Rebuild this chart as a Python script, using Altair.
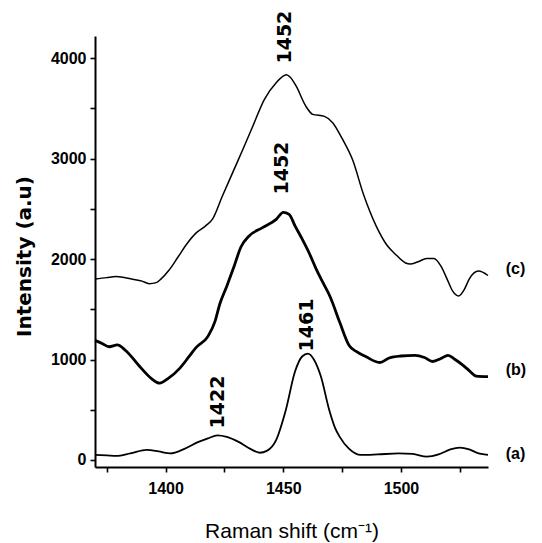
import altair as alt
import pandas as pd

# ---- data ----
a_x = [1370, 1375, 1379, 1385, 1392, 1397, 1402, 1408, 1414, 1418, 1422, 1426, 1431, 1436, 1440,
       1443, 1447, 1451, 1455, 1458, 1460.5, 1463, 1466, 1469.5, 1472, 1474, 1478, 1483, 1490,
       1499, 1505, 1511, 1516, 1521, 1525, 1529, 1533, 1537]
a_y = [50, 45, 40, 65, 100, 85, 65, 110, 180, 215, 245, 230, 180, 110, 72,
       90, 200, 490, 880, 1030, 1058, 1000, 830, 500, 320, 230, 110, 50, 55,
       65, 60, 33, 55, 105, 122, 105, 65, 50]

b_x = [1370, 1373, 1376, 1379.5, 1383, 1389, 1394, 1397.5, 1401, 1406, 1410, 1413, 1418, 1421,
       1423, 1426, 1429, 1432, 1435.5, 1441, 1447, 1450, 1452.5, 1455, 1458, 1461, 1464, 1467,
       1470, 1474, 1478, 1481, 1485, 1491, 1495, 1500, 1506, 1510, 1513.5, 1517, 1520, 1523,
       1526, 1529, 1532, 1537]
b_y = [1190, 1160, 1127, 1145, 1090, 930, 810, 765, 810, 912, 1030, 1120, 1230, 1380,
       1550, 1730, 1920, 2120, 2230, 2310, 2395, 2465, 2445, 2330, 2200, 2060, 1900, 1760,
       1620, 1370, 1140, 1080, 1030, 970, 1015, 1035, 1042, 1020, 980, 1010, 1042, 1000,
       950, 890, 835, 830]

c_x = [1370, 1375, 1379, 1386, 1390, 1393, 1396, 1398, 1401.5, 1405, 1409, 1413, 1417, 1420,
       1424, 1428.5, 1433, 1437, 1442, 1447, 1451.3, 1453, 1455.5, 1459.5, 1462.5, 1467.5, 1471,
       1475, 1479.5, 1484, 1489.5, 1494, 1498, 1502, 1504, 1507, 1511, 1514, 1517, 1520, 1522,
       1524.5, 1527, 1529, 1533, 1537]
c_y = [1800, 1815, 1825, 1798, 1780, 1755, 1765, 1800, 1890, 2010, 2150, 2260, 2330, 2400,
       2620, 2860, 3100, 3320, 3590, 3755, 3835, 3810, 3720, 3525, 3440, 3420, 3357,
       3200, 2985, 2650, 2328, 2140, 2040, 1960, 1950, 1970, 2005, 2005, 1930, 1780, 1680,
       1632, 1700, 1800, 1880, 1836]

series_names = ["(a)", "(b)", "(c)"]
series_widths = [1.8, 2.8, 1.5]

peak_text = ["1452", "1452", "1461", "1422"]
peak_x = [1450.8, 1449.5, 1459.9, 1422.1]
peak_y = [4209, 2905, 1343, 577]

tag_x = [1544.5, 1544.5, 1544.5]
tag_y = [55, 895, 1900]

x_ticks = [1375, 1400, 1425, 1450, 1475, 1500, 1525]
y_ticks = [0, 500, 1000, 1500, 2000, 2500, 3000, 3500, 4000]

# ---- tables ----
series_dfs = [pd.DataFrame({"x": xs, "y": ys}) for xs, ys in zip([a_x, b_x, c_x], [a_y, b_y, c_y])]
peaks_df = pd.DataFrame({"t": peak_text, "x": peak_x, "y": peak_y})
tags_df = pd.DataFrame({"t": series_names, "x": tag_x, "y": tag_y})

NARROW = "Liberation Sans Narrow, Arial Narrow, Liberation Sans, Arial, sans-serif"
WIDE = "DejaVu Sans, Verdana, sans-serif"

xscale = alt.Scale(domain=[1370, 1537], nice=False, zero=False)
yscale = alt.Scale(domain=[-70, 4220], nice=False, zero=False)

xaxis = alt.Axis(
    values=x_ticks,
    labelExpr="datum.value % 50 == 0 ? datum.label : ''",
    format="d",
    grid=False,
    tickSize=5, tickWidth=1.6, tickColor="black",
    domainWidth=2, domainColor="black",
    labelFont=NARROW, labelFontSize=16, labelFontWeight="bold", labelColor="black",
    labelPadding=8,
    title="Raman shift (cm⁻¹)",
    titleFont=NARROW, titleFontSize=21, titleFontWeight="normal", titleColor="black",
    titleY=64, titleBaseline="middle",
)
yaxis = alt.Axis(
    values=y_ticks,
    labelExpr="datum.value % 1000 == 0 ? datum.label : ''",
    format="d",
    grid=False,
    tickSize=5, tickWidth=1.6, tickColor="black",
    domainWidth=2, domainColor="black",
    labelFont=NARROW, labelFontSize=16, labelFontWeight="bold", labelColor="black",
    labelPadding=4,
    title="Intensity (a.u)",
    titleFont=WIDE, titleFontSize=20, titleFontWeight="bold", titleColor="black",
    titleX=-71, titleY=220, titleAlign="center", titleBaseline="middle", titleAngle=270,
)

layers = []
for i, (df, w) in enumerate(zip(series_dfs, series_widths)):
    if i == 0:
        enc_x = alt.X("x:Q", scale=xscale, axis=xaxis)
        enc_y = alt.Y("y:Q", scale=yscale, axis=yaxis)
    else:
        enc_x = alt.X("x:Q", scale=xscale)
        enc_y = alt.Y("y:Q", scale=yscale)
    layers.append(
        alt.Chart(df).mark_line(color="black", interpolate="monotone", strokeWidth=w).encode(
            x=enc_x, y=enc_y,
        )
    )

peaks = alt.Chart(peaks_df).mark_text(
    angle=270, align="center", baseline="middle",
    font=WIDE, fontSize=19, fontWeight="bold", color="black",
).encode(
    x=alt.X("x:Q", scale=xscale),
    y=alt.Y("y:Q", scale=yscale),
    text="t:N",
)

tags = alt.Chart(tags_df).mark_text(
    align="left", baseline="middle",
    font=NARROW, fontSize=16, fontWeight="bold", color="black",
).encode(
    x=alt.X("x:Q", scale=xscale),
    y=alt.Y("y:Q", scale=yscale),
    text="t:N",
)

chart = alt.layer(*layers, peaks, tags).properties(
    width=393, height=431,
    padding={"left": 95, "top": 36, "right": 54, "bottom": 76},
    autosize=alt.AutoSizeParams(type="none"),
    background="white",
).configure_view(stroke=None)

chart.save("out.html", embed_options={"renderer": "svg", "actions": False})
